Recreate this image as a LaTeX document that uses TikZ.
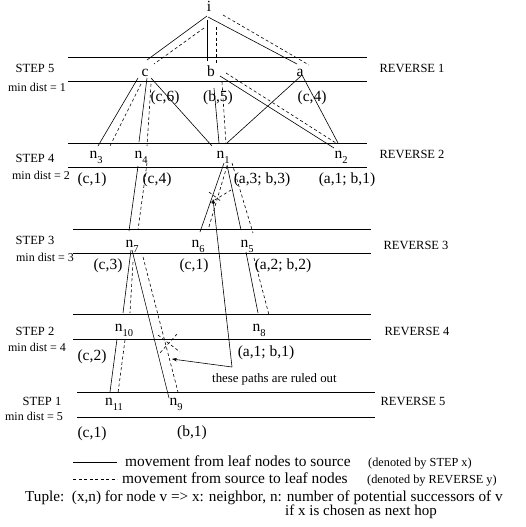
\documentclass[tikz,border=0pt]{standalone}
\usepackage{fontspec}
\setmainfont{Liberation Serif}
\usetikzlibrary{arrows.meta, calc}

\newcommand{\nd}[1]{n\raisebox{-5pt}{\fontsize{10.5}{10.5}\selectfont #1}}

\begin{document}
\begin{tikzpicture}[
    x=1pt, y=-1pt,
    vtx/.style={inner sep=0pt, anchor=base, font=\fontsize{15.5}{18}\selectfont},
    tup/.style={inner sep=0pt, anchor=base, font=\fontsize{15.5}{18}\selectfont},
    lvl/.style={inner sep=0pt, anchor=base, font=\fontsize{12.5}{15}\selectfont},
    dist/.style={inner sep=0pt, anchor=base, font=\fontsize{12}{14}\selectfont},
    legend/.style={inner sep=0pt, anchor=base west, font=\fontsize{15.4}{18}\selectfont},
    small/.style={inner sep=0pt, anchor=base west, font=\fontsize{12.3}{14}\selectfont},
    band/.style={line width=0.6pt},
    fwd/.style={line width=0.6pt},
    back/.style={line width=0.6pt, dash pattern=on 3pt off 2.5pt},
    cut/.style={-{Stealth[length=5pt,width=3.5pt]}, line width=0.6pt},
]
    \useasboundingbox (0,0) rectangle (525,527);

    % Bands
    \foreach \y/\xl/\xr in {57/68/367, 81/68/367, 143/68/367, 167/68/367,
                            229/73/371, 253/73/371, 314/73/371, 339/73/371,
                            392/77/375, 417/77/375}
        \draw[band] (\xl,\y) -- (\xr,\y);

    % Step labels
    \node[lvl] (s5) at (35,73) {STEP 5};
    \node[dist] (d5) at (37,91) {min dist = 1};
    \node[lvl] (s4) at (35,162) {STEP 4};
    \node[dist] (d4) at (41,179) {min dist = 2};
    \node[lvl] (s3) at (35,244) {STEP 3};
    \node[dist] (d3) at (45,261) {min dist = 3};
    \node[lvl] (s2) at (35,335) {STEP 2};
    \node[dist] (d2) at (37,351) {min dist = 4};
    \node[lvl] (s1) at (42,405) {STEP 1};
    \node[dist] (d1) at (34,420) {min dist = 5};

    % Reverse labels
    \node[lvl] (r1) at (412,73) {REVERSE 1};
    \node[lvl] (r2) at (412,158) {REVERSE 2};
    \node[lvl] (r3) at (416,249) {REVERSE 3};
    \node[lvl] (r4) at (417,335) {REVERSE 4};
    \node[lvl] (r5) at (413,405) {REVERSE 5};

    % Source
    \node[vtx] (i) at (209,12) {i};

    % Step 5
    \node[vtx] (c) at (145,76) {c};
    \node[vtx] (b) at (211,76) {b};
    \node[vtx] (a) at (300,76) {a};
    \node[tup] (t5c) at (165,101) {(c,6)};
    \node[tup] (t5b) at (218,101) {(b,5)};
    \node[tup] (t5a) at (312,101) {(c,4)};

    % Step 4
    \node[vtx] (n3) at (96,158) {\nd{3}};
    \node[vtx] (n4) at (141,158) {\nd{4}};
    \node[vtx] (n1) at (223,158) {\nd{1}};
    \node[vtx] (n2) at (341,158) {\nd{2}};
    \node[tup] (t4a) at (92,183) {(c,1)};
    \node[tup] (t4b) at (157,183) {(c,4)};
    \node[tup] (t4c) at (262,183) {(a,3; b,3)};
    \node[tup] (t4d) at (347,183) {(a,1; b,1)};

    % Step 3
    \node[vtx] (n7) at (132,247) {\nd{7}};
    \node[vtx] (n6) at (198,247) {\nd{6}};
    \node[vtx] (n5) at (247,247) {\nd{5}};
    \node[tup] (t3a) at (108,269) {(c,3)};
    \node[tup] (t3b) at (194,269) {(c,1)};
    \node[tup] (t3c) at (283,269) {(a,2; b,2)};

    % Step 2
    \node[vtx] (n10) at (124,331) {\nd{10}};
    \node[vtx] (n8) at (259,331) {\nd{8}};
    \node[tup] (t2a) at (92,360) {(c,2)};
    \node[tup] (t2b) at (266,356) {(a,1; b,1)};

    % Step 1
    \node[vtx] (n11) at (114,405) {\nd{11}};
    \node[vtx] (n9) at (176,405) {\nd{9}};
    \node[tup] (t1a) at (92,437) {(c,1)};
    \node[tup] (t1b) at (192,436) {(b,1)};

    % Leaf to source
    \draw[fwd] ($(i.base)+(-2,4)$) -- ($(c.base)+(2,-16)$);
    \draw[fwd] ($(i.base)+(-2,8)$) -- ($(b.base)+(-4,-15)$);
    \draw[fwd] ($(i.base)+(-1,5)$) -- ($(a.base)+(-3,-12)$);
    \draw[fwd] ($(c.base)+(-7,2)$) -- ($(n3.base)+(2,-12)$);
    \draw[fwd] ($(c.base)+(2,2)$) -- ($(n4.base)+(-2,-16)$);
    \draw[fwd] ($(c.base)+(6,2)$) -- ($(n1.base)+(-11,-12)$);
    \draw[fwd] ($(b.base)+(3,12)$) -- ($(n1.base)+(-4,-15)$);
    \draw[fwd] ($(b.base)+(9,0)$) -- ($(n2.base)+(-7,-10)$);
    \draw[fwd] ($(a.base)+(1,0)$) -- ($(n1.base)+(4,-15)$);
    \draw[fwd] ($(a.base)+(2,-1)$) -- ($(n2.base)+(-3,-15)$);
    \draw[fwd] ($(n4.base)+(-3,8)$) -- ($(n7.base)+(-3,-16)$);
    \draw[fwd] ($(n1.base)+(1,5)$) -- ($(n6.base)+(2,-15)$);
    \draw[fwd] ($(n1.base)+(4,7)$) -- ($(n5.base)+(-6,-17)$);
    \draw[fwd] ($(n7.base)+(-1,3)$) -- ($(n10.base)+(-1,-18)$);
    \draw[fwd] ($(n7.base)+(0,3)$) -- ($(n9.base)+(-7,-7)$);
    \draw[fwd] ($(n10.base)+(-7,8)$) -- ($(n11.base)+(-4,-13)$);
    \draw[fwd] ($(n5.base)+(-1,5)$) -- ($(n8.base)+(-1,-18)$);

    % Source to leaf
    \draw[back] ($(i.base)+(-5,16)$) -- ($(c.base)+(9,-12)$);
    \draw[back] ($(i.base)+(7,15)$) -- ($(b.base)+(5,-13)$);
    \draw[back] ($(i.base)+(14,3)$) -- ($(a.base)+(9,-11)$);
    \draw[back] ($(c.base)+(-4,8)$) -- ($(n3.base)+(14,-12)$);
    \draw[back] ($(c.base)+(6,8)$) -- ($(n4.base)+(6,-12)$);
    \draw[back] ($(b.base)+(11,6)$) -- ($(n1.base)+(3,-14)$);
    \draw[back] ($(b.base)+(15,-3)$) -- ($(n2.base)+(-5,-15)$);
    \draw[back] ($(n4.base)+(6,5)$) -- ($(n7.base)+(6,-17)$);
    \draw[back] ($(n1.base)+(4,8)$) -- ($(n6.base)+(10,-17)$);
    \draw[back] ($(n1.base)+(9,5)$) -- ($(n5.base)+(6,-14)$);
    \draw[back] ($(n7.base)+(1,15)$) -- ($(n10.base)+(6,-18)$);
    \draw[back] ($(n7.base)+(11,10)$) -- ($(n9.base)+(2,-13)$);
    \draw[back] ($(n10.base)+(1,9)$) -- ($(n11.base)+(4,-12)$);
    \draw[back] ($(n5.base)+(7,11)$) -- ($(n8.base)+(10,-16)$);

    % Ruled out
    \coordinate (cut1) at (216,197);
    \coordinate (cut2) at (167,345);
    \draw[back] ($(cut1)+(-7,-5)$) -- ($(cut1)+(6,5)$);
    \draw[back] ($(cut1)+(-6,6)$) -- ($(cut1)+(15,-7)$);
    \draw[back] ($(cut2)+(-9,-10)$) -- ($(cut2)+(13,7)$);
    \draw[back] ($(cut2)+(10,-11)$) -- ($(cut2)+(-8,9)$);
    \node[legend, font=\fontsize{12.8}{15}\selectfont] (note) at (212,382) {these paths are ruled out};
    \draw[cut] ($(note.base west)+(20,-15)$) -- ($(cut1)+(-3,2)$);
    \draw[cut] ($(note.base west)+(20,-15)$) -- ($(cut2)+(5,14)$);

    % Legend
    \draw[fwd] (73,462) -- (117,462);
    \draw[back] (73,479) -- (117,479);
    \node[legend] (lg1) at (125,466) {movement from leaf nodes to source};
    \node[small] (lg1x) at (368,466) {(denoted by STEP x)};
    \node[legend] (lg2) at (122,483) {movement from source to leaf nodes};
    \node[small] (lg2x) at (367,483) {(denoted by REVERSE y)};
    \node[legend, font=\fontsize{15.2}{17}\selectfont] (tuple) at (25,501) {Tuple:\ \ (x,n) for node v => x: neighbor, n: number of potential successors of v};
    \node[legend, font=\fontsize{15}{17}\selectfont] (hop) at (285,515) {if x is chosen as next hop};

\end{tikzpicture}
\end{document}
